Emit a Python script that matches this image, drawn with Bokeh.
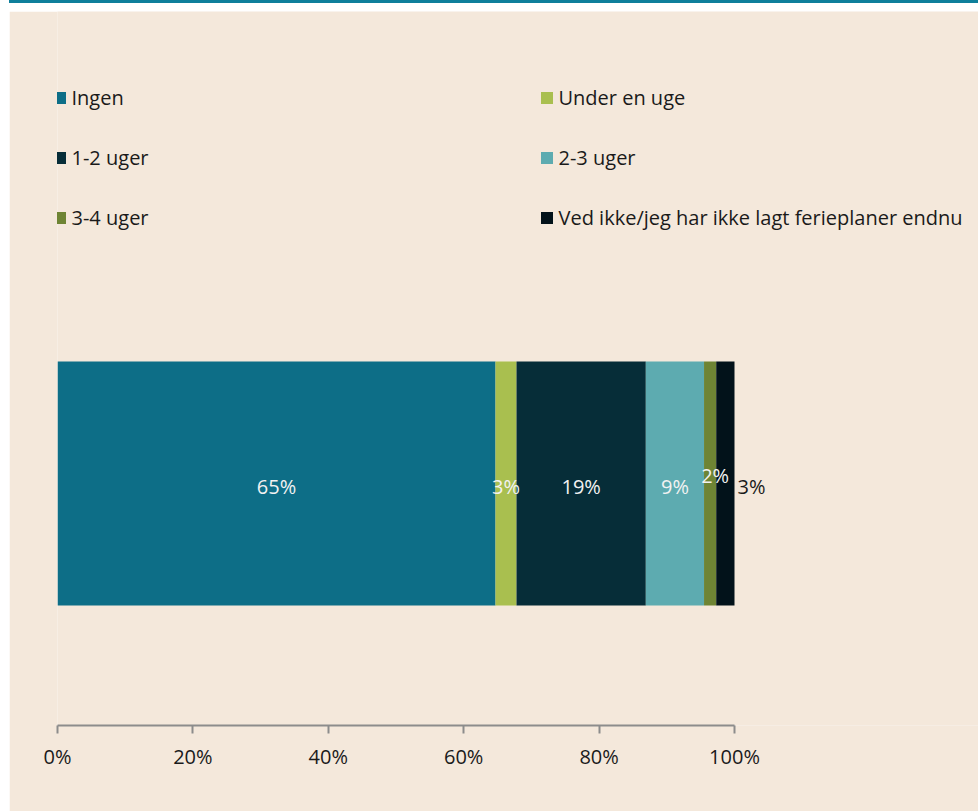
from bokeh.plotting import figure
from bokeh.models import (ColumnDataSource, Range1d, FixedTicker, PrintfTickFormatter,
                          Legend, LegendItem, Div)
from bokeh.layouts import column
from bokeh.embed import file_html
from bokeh.resources import INLINE
from bokeh.core.properties import value

# ---- data ----
categories = ["Ingen", "Under en uge", "1-2 uger", "2-3 uger", "3-4 uger",
              "Ved ikke/jeg har ikke lagt ferieplaner endnu"]
shares = [64.7, 3.1, 19.1, 8.6, 1.8, 2.7]
colors = ["#0D6E87", "#A9BF4F", "#062D38", "#5DABB0", "#6E8434", "#02121A"]
tick_values = [0, 20, 40, 60, 80, 100]

FONT = "Open Sans"
BG = "#F4E8DB"
TEAL = "#0E7F9B"

W, H = 969, 800
LEFT = 48
AXIS_PX = 677          # pixel length of the 0-100 % axis
FRAME_W = W - LEFT     # frame spans to the right edge (room for legend)

p = figure(width=W, height=H, output_backend="svg", toolbar_location=None,
           x_range=Range1d(0, 100 * FRAME_W / AXIS_PX),
           y_range=Range1d(-0.992, 1.934),
           min_border_left=LEFT, min_border_right=0, min_border_top=0,
           min_border_bottom=86, margin=(8, 0, 0, 9))
p.background_fill_color = BG
p.border_fill_color = BG
p.outline_line_color = None
p.grid.visible = False
p.yaxis.visible = False

# cumulative positions
lefts, rights = [], []
acc = 0.0
for v in shares:
    lefts.append(acc)
    acc += v
    rights.append(acc)

renderers = []
for cat, l, r, c in zip(categories, lefts, rights, colors):
    src = ColumnDataSource(dict(y=[0], left=[l], right=[r]))
    rr = p.hbar(y="y", left="left", right="right", height=1, source=src,
                fill_color=c, line_color=None)
    renderers.append(rr)

# labels inside segments (all but last)
in_x = [(l + r) / 2 for l, r in zip(lefts[:-1], rights[:-1])]
in_txt = [f"{round(v)}%" for v in shares[:-1]]
in_yoff = [3, 3, 3, 3, -8]
in_xoff = [0, 0, 0, 0, 5]
lab_src = ColumnDataSource(dict(x=in_x, y=[0] * len(in_x), text=in_txt,
                                yo=in_yoff, xo=in_xoff))
p.text(x="x", y="y", text="text", source=lab_src, text_align="center",
       text_baseline="middle", text_color="#F2F2F2", text_font=value(FONT),
       text_font_size="20px", x_offset="xo", y_offset="yo")

# last label outside the bar
out_src = ColumnDataSource(dict(x=[rights[-1]], y=[0], text=[f"{round(shares[-1])}%"]))
p.text(x="x", y="y", text="text", source=out_src, text_align="left",
       text_baseline="middle", text_color="#1A1A1A", text_font=value(FONT),
       text_font_size="20px", x_offset=3, y_offset=3)

# x axis
ax = p.xaxis[0]
ax.bounds = (0, 100)
ax.ticker = FixedTicker(ticks=tick_values)
ax.formatter = PrintfTickFormatter(format="%d%%")
ax.axis_line_color = "#8C8C8C"
ax.axis_line_width = 2
ax.major_tick_line_color = "#8C8C8C"
ax.major_tick_line_width = 2
ax.major_tick_in = 0
ax.major_tick_out = 8
ax.minor_tick_line_color = None
ax.major_label_text_font = FONT
ax.major_label_text_font_size = "20px"
ax.major_label_text_color = "#1A1A1A"
ax.major_label_standoff = 9

# legends: two columns
def make_legend(idx, loc):
    items = [LegendItem(label=categories[i], renderers=[renderers[i]]) for i in idx]
    return Legend(items=items, location=loc, orientation="vertical",
                  background_fill_alpha=0, border_line_alpha=0, padding=0, margin=0,
                  glyph_width=15, glyph_height=15, label_height=15,
                  label_standoff=5, spacing=33,
                  label_text_font=FONT, label_text_font_size="20px",
                  label_text_color="#1A1A1A")

p.add_layout(make_legend([0, 2, 4], (-5.5, 494)), "center")
p.add_layout(make_legend([1, 3, 5], (481.5, 494)), "center")

top_line = Div(width=W, height=3, margin=(0, 0, 0, 9),
               styles={"background-color": TEAL})
layout = column(top_line, p, spacing=0)

open("out.html", "w").write(file_html(layout, INLINE))
